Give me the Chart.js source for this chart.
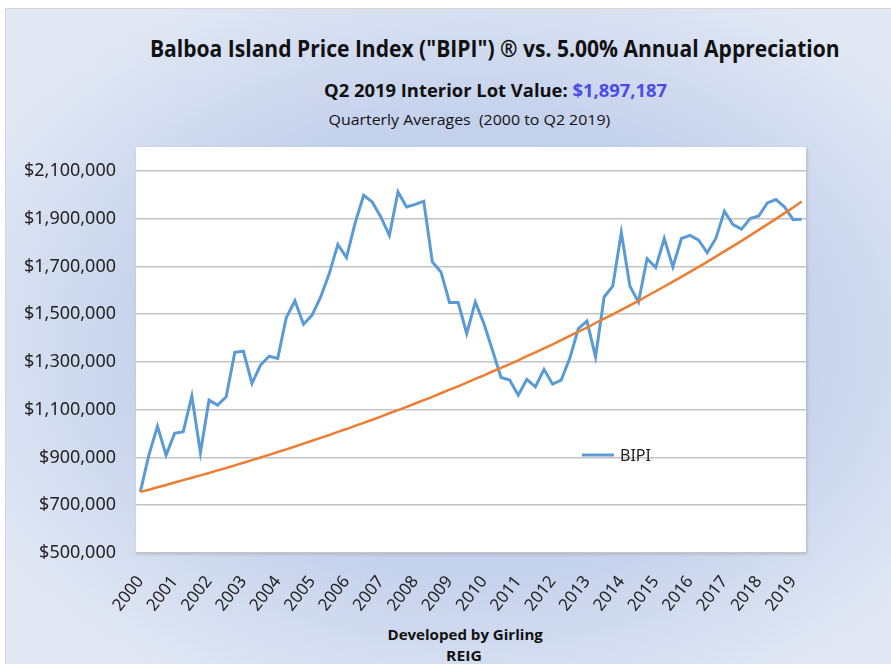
<!DOCTYPE html>
<html>
<head>
<meta charset="utf-8">
<script src="https://cdn.jsdelivr.net/npm/chart.js@4"></script>
<style>
  body { margin: 0; background: #fff; width: 891px; height: 664px; overflow: hidden; position: relative; }
  #frame {
    position: absolute; left: 5px; top: 8px; width: 900px; height: 670px;
    border: 1px solid #d6d6d6;
    background: radial-gradient(ellipse 62% 60% at 52% 50%, #bccbea 0%, #c4d1ec 55%, #e2e8f4 100%);
  }
  #wrap { position: absolute; left: 0; top: 0; width: 891px; height: 664px; }
  .txt { position: absolute; white-space: nowrap; font-family: "Open Sans", sans-serif; color: #111; transform-origin: center center; }
  .b { font-weight: bold; }
</style>
</head>
<body>
<div id="frame"></div>
<div class="txt b fit" data-cx="495" data-cy="48" data-w="690" style="font-size:23px;">Balboa Island Price Index ("BIPI") ® vs. 5.00% Annual Appreciation</div>
<div class="txt b fit" data-cx="495" data-cy="90" data-w="343" style="font-size:17px;">Q2 2019 Interior Lot Value: <span style="color:#4b4be8">$1,897,187</span></div>
<div class="txt fit" data-cx="469" data-cy="119" data-w="282" style="font-size:14.5px;">Quarterly Averages&nbsp; (2000 to Q2 2019)</div>
<div class="txt b fit" data-cx="465" data-cy="634" data-w="155" style="font-size:14px;">Developed by Girling</div>
<div class="txt b fit" data-cx="464" data-cy="655" data-w="36" style="font-size:14px;">REIG</div>
<div id="wrap"><canvas id="chart" width="891" height="664"></canvas></div>
<script>
// 年と四半期
const years = ['2000','2001','2002','2003','2004','2005','2006','2007','2008','2009',
               '2010','2011','2012','2013','2014','2015','2016','2017','2018','2019'];
const quarters = ['Q1','Q2','Q3','Q4'];

// BIPI 四半期平均（2000 Q1 〜 2019 Q2）
const bipi = [
  756000, 910000, 1031000, 910000,
  1001000, 1008000, 1157000, 920000,
  1140000, 1119000, 1154000, 1340000,
  1345000, 1210000, 1287000, 1324000,
  1315000, 1486000, 1556000, 1458000,
  1496000, 1572000, 1670000, 1792000,
  1737000, 1880000, 1998000, 1970000,
  1907000, 1830000, 2012000, 1949000,
  1960000, 1973000, 1719000, 1677000,
  1549000, 1549000, 1419000, 1551000,
  1461000, 1349000, 1235000, 1224000,
  1161000, 1227000, 1196000, 1269000,
  1207000, 1224000, 1315000, 1440000,
  1471000, 1321000, 1572000, 1617000,
  1842000, 1617000, 1551000, 1733000,
  1695000, 1817000, 1698000, 1817000,
  1830000, 1810000, 1757000, 1817000,
  1931000, 1875000, 1856000, 1900000,
  1911000, 1966000, 1980000, 1949000,
  1896000, 1897187
];

// 年5%の上昇ライン
const appreciation = [
  756000, 765000, 775000, 785000,
  795000, 805000, 815000, 825000,
  835000, 846000, 856000, 867000,
  878000, 889000, 900000, 911000,
  923000, 934000, 946000, 958000,
  970000, 982000, 994000, 1007000,
  1019000, 1032000, 1045000, 1058000,
  1071000, 1085000, 1098000, 1112000,
  1126000, 1140000, 1154000, 1169000,
  1184000, 1198000, 1213000, 1229000,
  1244000, 1260000, 1275000, 1291000,
  1307000, 1324000, 1340000, 1357000,
  1374000, 1391000, 1409000, 1427000,
  1444000, 1463000, 1481000, 1499000,
  1518000, 1537000, 1556000, 1576000,
  1596000, 1616000, 1636000, 1656000,
  1677000, 1698000, 1719000, 1741000,
  1763000, 1785000, 1807000, 1830000,
  1853000, 1876000, 1899000, 1923000,
  1947000, 1972000
];

// 縦軸の目盛り
const yTicks = [500000, 700000, 900000, 1100000, 1300000, 1500000, 1700000, 1900000, 2100000];

// ラベル作成
const labels = [];
years.forEach(function(y){
  quarters.forEach(function(q){
    if (labels.length < bipi.length) labels.push(y + ' ' + q);
  });
});

// テキストの幅合わせ
document.querySelectorAll('.fit').forEach(function(el){
  const k = Number(el.dataset.w) / el.offsetWidth;
  el.style.left = (Number(el.dataset.cx) - el.offsetWidth / 2) + 'px';
  el.style.top = (Number(el.dataset.cy) - el.offsetHeight / 2) + 'px';
  el.style.transform = 'scaleX(' + k + ')';
});

// 白い描画エリア
const plotBg = {
  id: 'plotBg',
  beforeDraw(chart) {
    const a = chart.chartArea;
    const c = chart.ctx;
    c.save();
    c.shadowColor = 'rgba(0,0,0,0.18)';
    c.shadowBlur = 3;
    c.shadowOffsetX = 1;
    c.shadowOffsetY = 1;
    c.fillStyle = '#ffffff';
    c.fillRect(a.left, a.top, a.right - a.left, a.bottom - a.top);
    c.restore();
  }
};

// 凡例（BIPIのみ）
const bipiLegend = {
  id: 'bipiLegend',
  afterDraw(chart) {
    const c = chart.ctx;
    const ds = chart.data.datasets[0];
    c.save();
    c.strokeStyle = ds.borderColor;
    c.lineWidth = 3;
    c.beginPath();
    c.moveTo(582, 455);
    c.lineTo(614, 455);
    c.stroke();
    c.fillStyle = '#222';
    c.font = '16px "Noto Sans"';
    c.textBaseline = 'middle';
    c.fillText(ds.label, 620, 456);
    c.restore();
  }
};

const ctx = document.getElementById('chart');
const chart = new Chart(ctx, {
  type: 'line',
  data: {
    labels: labels,
    datasets: [{
      label: 'BIPI',
      data: bipi,
      borderColor: '#5b9bd5',
      borderWidth: 3,
      pointRadius: 0,
      tension: 0,
      order: 1
    }, {
      label: '5.00% Annual Appreciation',
      data: appreciation,
      borderColor: '#ed7d31',
      borderWidth: 2.5,
      pointRadius: 0,
      tension: 0,
      order: 0
    }]
  },
  options: {
    responsive: false,
    animation: false,
    layout: { padding: { left: 0, top: 147, right: 85, bottom: 0 } },
    plugins: {
      legend: { display: false },
      tooltip: { enabled: false }
    },
    scales: {
      x: {
        offset: true,
        grid: { display: false },
        border: { display: false },
        afterFit(scale) { scale.height = 111; },
        ticks: {
          autoSkip: false,
          minRotation: 52,
          maxRotation: 52,
          padding: 11,
          color: '#222',
          font: { family: 'Noto Sans', size: 17 },
          callback: function(v, i) {
            const l = labels[i];
            return l.endsWith('Q1') ? l.slice(0, 4) : '';
          }
        }
      },
      y: {
        min: 500000,
        max: 2200000,
        afterBuildTicks(scale) { scale.ticks = yTicks.map(function(v){ return { value: v }; }); },
        afterFit(scale) { scale.width = 136; },
        border: { display: false },
        grid: { color: '#c4c4c4', lineWidth: 1.5, drawTicks: false },
        ticks: {
          padding: 20,
          color: '#222',
          font: { family: 'Noto Sans', size: 18 },
          callback: function(v) { return '$' + v.toLocaleString('en-US'); }
        }
      }
    }
  },
  plugins: [plotBg, bipiLegend]
});
</script>
</body>
</html>
